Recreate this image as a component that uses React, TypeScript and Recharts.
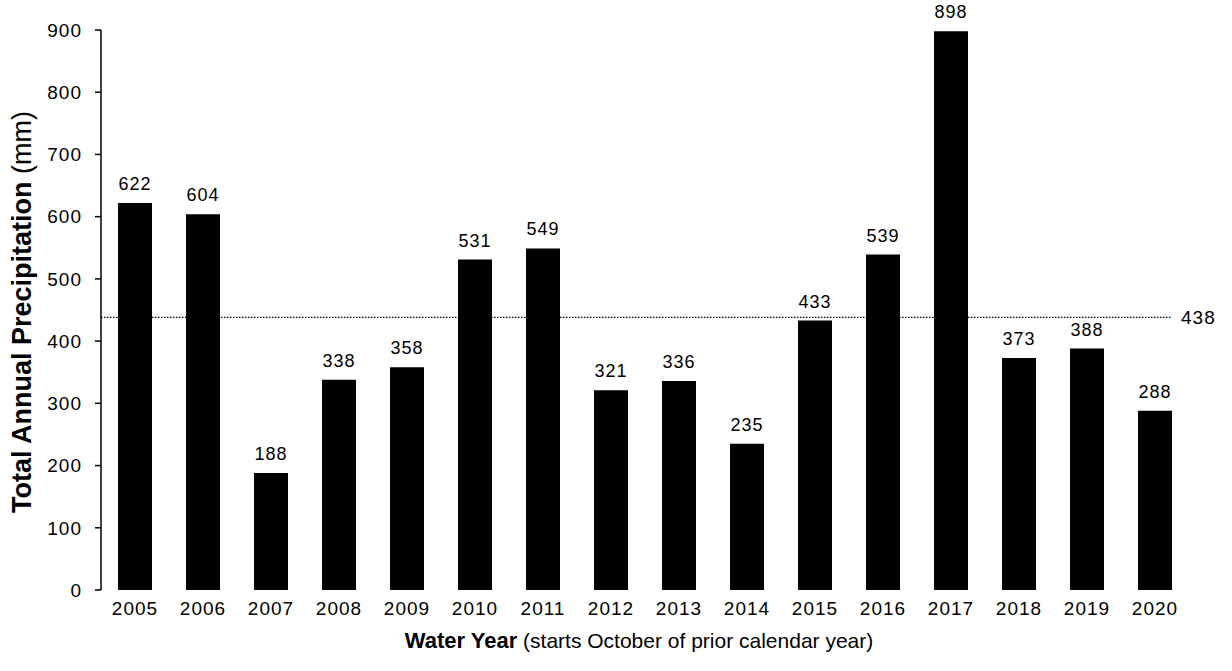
import {
  BarChart,
  Bar,
  XAxis,
  YAxis,
  ReferenceLine,
  Label,
} from 'recharts';

const years = ['2005', '2006', '2007', '2008', '2009', '2010', '2011', '2012', '2013', '2014', '2015', '2016', '2017', '2018', '2019', '2020'];
const precipitation = [622, 604, 188, 338, 358, 531, 549, 321, 336, 235, 433, 539, 898, 373, 388, 288];
const yTicks = [0, 100, 200, 300, 400, 500, 600, 700, 800, 900];
const averagePrecip = 438;

const data = years.map((year, i) => ({ year, value: precipitation[i] }));

const font = '"Liberation Sans", Arial, sans-serif';
const tickStyle = { fill: '#000', fontSize: 19, fontFamily: font, letterSpacing: 1 };

const AvgLine = (props: any) => (
  <line
    x1={props.x1}
    y1={props.y1}
    x2={props.x2 - 17}
    y2={props.y2}
    stroke="#000"
    strokeWidth={1.3}
    strokeDasharray="1.5 1.5"
  />
);

const AvgLabel = (props: any) => {
  const { viewBox } = props;
  return (
    <text
      x={viewBox.x + viewBox.width - 8}
      y={viewBox.y + 7}
      fontSize={19}
      fontFamily={font}
      letterSpacing={1}
      fill="#000"
    >
      {averagePrecip}
    </text>
  );
};

const BarValue = (props: any) => {
  const { x, y, width, value } = props;
  return (
    <text
      x={x + width / 2}
      y={y - 13}
      textAnchor="middle"
      fontSize={18}
      fontFamily={font}
      letterSpacing={1}
      fill="#000"
    >
      {value}
    </text>
  );
};

const YTitle = (props: any) => {
  const { viewBox } = props;
  const cy = viewBox.y + viewBox.height / 2 + 2;
  return (
    <text
      x={22}
      y={cy}
      transform={`rotate(-90, 22, ${cy})`}
      textAnchor="middle"
      dominantBaseline="central"
      fontSize={27}
      fontFamily={font}
      fill="#000"
    >
      <tspan fontWeight="bold">Total Annual Precipitation</tspan>
      <tspan> (mm)</tspan>
    </text>
  );
};

const XTitle = (props: any) => {
  const { viewBox } = props;
  return (
    <text
      x={viewBox.x + viewBox.width / 2 - 6}
      y={648}
      textAnchor="middle"
      fontSize={21}
      fontFamily={font}
      fill="#000"
    >
      <tspan fontWeight="bold" fontSize={22}>Water Year</tspan>
      <tspan> (starts October of prior calendar year)</tspan>
    </text>
  );
};

export default function App() {
  return (
    <div style={{ position: 'absolute', left: 0, top: 0, background: '#fff' }}>
      <BarChart
        width={1232}
        height={671}
        data={data}
        margin={{ top: 30, right: 43, left: 0, bottom: 51 }}
      >
        <XAxis
          dataKey="year"
          height={30}
          axisLine={false}
          tickLine={false}
          tick={tickStyle}
          tickMargin={6}
          interval={0}
        >
          <Label content={<XTitle />} />
        </XAxis>
        <YAxis
          width={101}
          domain={[0, 900]}
          ticks={yTicks}
          interval={0}
          axisLine={{ stroke: '#000', strokeWidth: 1.5 }}
          tickLine={{ stroke: '#000', strokeWidth: 1.5 }}
          tickSize={6}
          tickMargin={13}
          tick={tickStyle}
        >
          <Label content={<YTitle />} />
        </YAxis>
        <Bar
          dataKey="value"
          fill="#000"
          barSize={34}
          isAnimationActive={false}
          label={<BarValue />}
        />
        <ReferenceLine
          y={averagePrecip}
          shape={<AvgLine />}
          label={<AvgLabel />}
        />
      </BarChart>
    </div>
  );
}
